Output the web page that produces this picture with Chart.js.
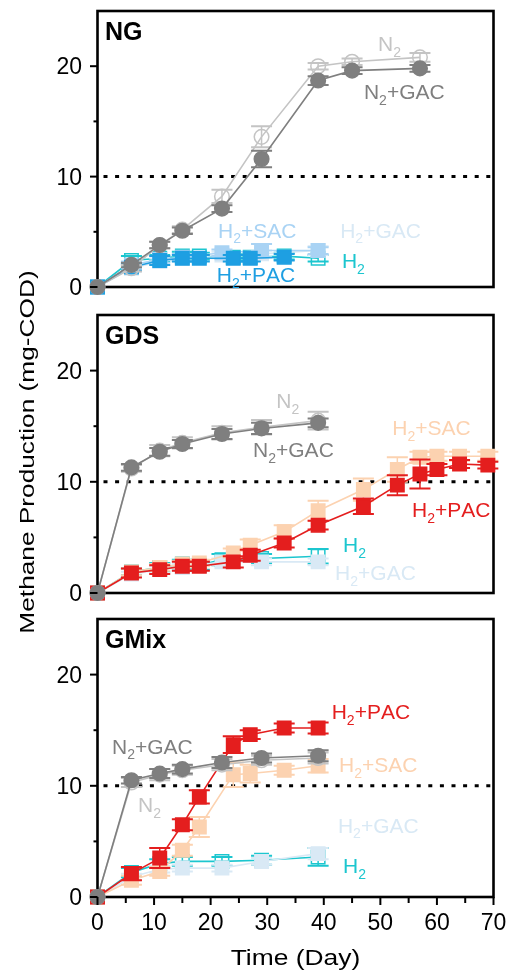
<!DOCTYPE html>
<html><head><meta charset="utf-8">
<script src="https://cdn.jsdelivr.net/npm/chart.js@4.4.1/dist/chart.umd.min.js"></script>
<style>
html,body{margin:0;padding:0;background:#fff;}
#wrap{position:relative;width:511px;height:977px;overflow:hidden;}
canvas{position:absolute;left:0;top:0;}
</style></head><body>
<div id="wrap">
<canvas id="c0" width="511" height="977"></canvas>
<canvas id="c1" width="511" height="977"></canvas>
<canvas id="c2" width="511" height="977"></canvas>
</div>
<script>
// ---------- data ----------
const panelNames = ['NG', 'GDS', 'GMix'];
const xTickValues = [0, 10, 20, 30, 40, 50, 60, 70];
const xMinorValues = [5, 15, 25, 35, 45, 55, 65];
const yTickValues = [0, 10, 20];
const yMinorValues = [5, 15];
const xTitle = 'Time (Day)';
const yTitle = 'Methane Production (mg-COD)';

const daysNG_N = [0, 6, 11, 15, 22, 29, 39, 45, 57];
const daysA = [0, 6, 11, 15, 22, 29, 39];
const daysB = [0, 6, 11, 15, 18, 24, 27, 33, 39];
const daysB8 = [0, 6, 11, 15, 18, 24, 27, 33];
const daysC = [0, 6, 11, 15, 18, 22, 29, 39];
const daysLong = [0, 6, 11, 15, 18, 24, 27, 33, 39, 47, 53, 57, 60, 64, 69];

// NG
const ngN2GAC = [0, 2.0, 3.8, 5.1, 7.1, 11.6, 18.7, 19.6, 19.8];
const ngN2GACErr = [0, 0.2, 0.3, 0.3, 0.3, 0.75, 0.4, 0.3, 0.3];
const ngN2 = [0, 1.7, 3.8, 5.2, 8.2, 13.6, 20.0, 20.4, 20.8];
const ngN2Err = [0, 0.3, 0.3, 0.3, 0.6, 0.95, 0.3, 0.3, 0.4];
const ngH2PAC = [0, 1.8, 2.4, 2.6, 2.6, 2.6, 2.6, 2.7];
const ngH2PACErr = [0, 0.3, 0.4, 0.3, 0.3, 0.3, 0.3, 0.3];
const ngH2SAC = [0, 2.0, 2.5, 2.7, 3.1, 3.3, 3.3];
const ngH2SACErr = [0, 0.3, 0.3, 0.3, 0.3, 0.6, 0.3];
const ngH2GAC = [0, 1.7, 2.3, 2.6, 2.9, 3.0, 3.3];
const ngH2GACErr = [0, 0.3, 0.3, 0.3, 0.3, 0.3, 0.4];
const ngH2 = [0, 2.4, 2.6, 2.8, 2.8, 2.7, 2.7, 2.8, 2.6];
const ngH2Err = [0, 0.4, 0.3, 0.4, 0.3, 0.3, 0.3, 0.3, 0.3];

// GDS
const gdsN2GAC = [0, 11.3, 12.7, 13.4, 14.3, 14.8, 15.3];
const gdsN2GACErr = [0, 0.3, 0.35, 0.35, 0.45, 0.5, 0.4];
const gdsN2 = [0, 11.2, 12.8, 13.5, 14.4, 14.9, 15.5];
const gdsN2Err = [0, 0.3, 0.5, 0.5, 0.6, 0.65, 0.8];
const gdsH2PAC = [0, 1.8, 2.1, 2.4, 2.4, 2.8, 3.4, 4.5, 6.1, 7.8, 9.7, 10.7, 11.1, 11.6, 11.5];
const gdsH2PACErr = [0, 0.4, 0.4, 0.4, 0.4, 0.5, 0.5, 0.4, 0.4, 0.7, 0.9, 1.3, 0.5, 0.35, 0.3];
const gdsH2SAC = [0, 1.9, 2.3, 2.6, 2.7, 3.6, 4.3, 5.5, 7.4, 9.3, 11.1, 12.2, 12.3, 12.3, 12.3];
const gdsH2SACErr = [0, 0.3, 0.3, 0.3, 0.3, 0.4, 0.5, 0.6, 0.9, 1.0, 1.1, 0.5, 0.4, 0.4, 0.4];
const gdsH2GAC = [0, 1.7, 2.1, 2.3, 2.8, 2.8, 2.8];
const gdsH2GACErr = [0, 0.2, 0.3, 0.3, 0.3, 0.3, 0.3];
const gdsH2 = [0, 1.9, 2.3, 2.6, 2.5, 3.0, 3.1, 3.3];
const gdsH2Err = [0, 0.3, 0.4, 0.4, 0.4, 0.5, 0.4, 0.65];

// GMix
const gmN2GAC = [0, 10.5, 11.1, 11.5, 12.1, 12.5, 12.7];
const gmN2GACErr = [0, 0.3, 0.4, 0.4, 0.5, 0.4, 0.5];
const gmN2 = [0, 10.3, 11.0, 11.4, 11.9, 12.3, 12.5];
const gmN2Err = [0, 0.4, 0.5, 0.4, 0.5, 0.4, 0.5];
const gmH2PAC = [0, 2.1, 3.5, 6.5, 9.0, 13.7, 14.6, 15.2, 15.2];
const gmH2PACErr = [0, 0.6, 0.9, 0.5, 0.6, 0.75, 0.4, 0.4, 0.5];
const gmH2SAC = [0, 1.5, 2.3, 4.2, 6.3, 11.0, 11.1, 11.4, 11.8];
const gmH2SACErr = [0, 0.4, 0.4, 0.5, 0.9, 1.1, 0.8, 0.4, 0.6];
const gmH2GAC = [0, 1.8, 2.5, 2.6, 2.6, 3.2, 3.9];
const gmH2GACErr = [0, 0.3, 0.3, 0.3, 0.3, 0.3, 0.5];
const gmH2 = [0, 2.2, 3.0, 3.2, 3.2, 3.3, 3.6];
const gmH2Err = [0, 0.4, 0.4, 0.4, 0.4, 0.4, 0.8];

// ---------- styles ----------
const C = {
  n2gac: '#7f7f7f', n2: '#c4c4c4', h2: '#1cc6cf',
  pacBlue: '#1e9fe2', sacBlue: '#a9d3f4', gac: '#d9e9f5',
  red: '#e41e1e', peach: '#fcd2b0'
};
const FONT = '"Liberation Sans", Arial, Helvetica, sans-serif';

function ser(name, days, vals, errs, color, shape, hollow) {
  return { name, days, vals, errs, color, shape, hollow };
}

const panels = [
  { name: panelNames[0], top: 10, bottom: 287, series: [
      ser('N2+GAC', daysNG_N, ngN2GAC, ngN2GACErr, C.n2gac, 'circle', false),
      ser('N2', daysNG_N, ngN2, ngN2Err, C.n2, 'circle', true),
      ser('H2+PAC', daysB8, ngH2PAC, ngH2PACErr, C.pacBlue, 'rect', false),
      ser('H2+SAC', daysA, ngH2SAC, ngH2SACErr, C.sacBlue, 'rect', false),
      ser('H2+GAC', daysA, ngH2GAC, ngH2GACErr, C.gac, 'rect', false),
      ser('H2', daysB, ngH2, ngH2Err, C.h2, 'rect', true)
    ],
    labels: [
      ['N2', 49.6, 21.4, C.n2], ['N2+GAC', 47.1, 17.0, C.n2gac],
      ['H2+SAC', 21.3, 4.48, C.sacBlue], ['H2+GAC', 42.9, 4.48, C.gac],
      ['H2+PAC', 21.1, 0.45, C.pacBlue], ['H2', 43.2, 1.7, C.h2]
    ] },
  { name: panelNames[1], top: 315, bottom: 593, series: [
      ser('N2+GAC', daysA, gdsN2GAC, gdsN2GACErr, C.n2gac, 'circle', false),
      ser('N2', daysA, gdsN2, gdsN2Err, C.n2, 'circle', true),
      ser('H2+PAC', daysLong, gdsH2PAC, gdsH2PACErr, C.red, 'rect', false),
      ser('H2+SAC', daysLong, gdsH2SAC, gdsH2SACErr, C.peach, 'rect', false),
      ser('H2+GAC', daysA, gdsH2GAC, gdsH2GACErr, C.gac, 'rect', false),
      ser('H2', daysC, gdsH2, gdsH2Err, C.h2, 'rect', true)
    ],
    labels: [
      ['N2', 31.6, 16.6, C.n2], ['N2+GAC', 27.5, 12.2, C.n2gac],
      ['H2+SAC', 52.1, 14.2, C.peach], ['H2+PAC', 55.6, 6.83, C.red],
      ['H2', 43.4, 3.69, C.h2], ['H2+GAC', 42.0, 1.17, C.gac]
    ] },
  { name: panelNames[2], top: 619, bottom: 897, series: [
      ser('N2+GAC', daysA, gmN2GAC, gmN2GACErr, C.n2gac, 'circle', false),
      ser('N2', daysA, gmN2, gmN2Err, C.n2, 'circle', true),
      ser('H2+PAC', daysB, gmH2PAC, gmH2PACErr, C.red, 'rect', false),
      ser('H2+SAC', daysB, gmH2SAC, gmH2SACErr, C.peach, 'rect', false),
      ser('H2+GAC', daysA, gmH2GAC, gmH2GACErr, C.gac, 'rect', false),
      ser('H2', daysA, gmH2, gmH2Err, C.h2, 'rect', true)
    ],
    labels: [
      ['N2+GAC', 2.56, 12.9, C.n2gac], ['N2', 7.16, 7.6, C.n2],
      ['H2+PAC', 41.4, 16.0, C.red], ['H2+SAC', 42.7, 11.2, C.peach],
      ['H2+GAC', 42.5, 5.8, C.gac], ['H2', 43.4, 2.15, C.h2]
    ] }
];

// text with subscript 2 after N/H
function drawSub(ctx, text, x, y, size, color, align) {
  const parts = [];
  for (let i = 0; i < text.length; i++) {
    const ch = text[i];
    const sub = ch === '2' && i > 0 && (text[i - 1] === 'N' || text[i - 1] === 'H');
    parts.push([ch, sub]);
  }
  const subSize = Math.round(size * 0.66);
  let w = 0;
  parts.forEach(([ch, sub]) => {
    ctx.font = (sub ? subSize : size) + 'px ' + FONT;
    w += ctx.measureText(ch).width;
  });
  let cx = align === 'center' ? x - w / 2 : x;
  ctx.fillStyle = color;
  ctx.textAlign = 'left';
  ctx.textBaseline = 'alphabetic';
  parts.forEach(([ch, sub]) => {
    ctx.font = (sub ? subSize : size) + 'px ' + FONT;
    ctx.fillText(ch, cx, sub ? y + size * 0.28 : y);
    cx += ctx.measureText(ch).width;
  });
}

const panelPlugin = {
  id: 'panelPlugin',
  beforeDatasetsDraw(chart) {
    const { ctx, chartArea: a, scales: { y } } = chart;
    ctx.save();
    // dotted reference line at 10
    ctx.strokeStyle = '#000';
    ctx.lineWidth = 3;
    ctx.setLineDash([4, 7.6]);
    const yy = y.getPixelForValue(10);
    ctx.beginPath();
    ctx.moveTo(a.left + 6, yy);
    ctx.lineTo(a.right, yy);
    ctx.stroke();
    ctx.setLineDash([]);
    // frame
    ctx.lineWidth = 2.6;
    ctx.strokeRect(a.left, a.top, a.right - a.left, a.bottom - a.top);
    ctx.restore();
  },
  beforeDatasetDraw(chart, args) {
    const ds = chart.data.datasets[args.index];
    const { ctx, scales: { x, y } } = chart;
    ctx.save();
    ctx.strokeStyle = ds.borderColor;
    ds.data.forEach((p, i) => {
      const e = ds.errs[i];
      if (!e) return;
      const px = x.getPixelForValue(p.x);
      const hi = y.getPixelForValue(p.y + e);
      const lo = y.getPixelForValue(p.y - e);
      ctx.lineWidth = 1.5;
      ctx.beginPath(); ctx.moveTo(px, hi); ctx.lineTo(px, lo); ctx.stroke();
      ctx.lineWidth = 2;
      ctx.beginPath();
      ctx.moveTo(px - 10.5, hi); ctx.lineTo(px + 10.5, hi);
      ctx.moveTo(px - 10.5, lo); ctx.lineTo(px + 10.5, lo);
      ctx.stroke();
    });
    ctx.restore();
  },
  afterDraw(chart) {
    const { ctx, chartArea: a, scales: { x, y } } = chart;
    const panel = chart.options.plugins.panelPlugin.panel;
    const idx = chart.options.plugins.panelPlugin.index;
    ctx.save();
    ctx.strokeStyle = '#000';
    ctx.fillStyle = '#000';
    ctx.lineWidth = 2;
    // y ticks
    yTickValues.forEach(v => {
      const py = y.getPixelForValue(v);
      ctx.beginPath(); ctx.moveTo(a.left - 7.5, py); ctx.lineTo(a.left, py); ctx.stroke();
      ctx.font = '23px ' + FONT;
      ctx.textAlign = 'right'; ctx.textBaseline = 'alphabetic';
      ctx.fillText(String(v), 82, py + 8.2);
    });
    yMinorValues.forEach(v => {
      const py = y.getPixelForValue(v);
      ctx.beginPath(); ctx.moveTo(a.left - 4, py); ctx.lineTo(a.left, py); ctx.stroke();
    });
    // x ticks on last panel
    if (idx === 2) {
      xTickValues.forEach(v => {
        const px = x.getPixelForValue(v);
        ctx.beginPath(); ctx.moveTo(px, a.bottom); ctx.lineTo(px, a.bottom + 8); ctx.stroke();
        ctx.font = '23px ' + FONT;
        ctx.textAlign = 'center'; ctx.textBaseline = 'alphabetic';
        ctx.fillText(String(v), px, 930);
      });
      xMinorValues.forEach(v => {
        const px = x.getPixelForValue(v);
        ctx.beginPath(); ctx.moveTo(px, a.bottom); ctx.lineTo(px, a.bottom + 6); ctx.stroke();
      });
      // x title
      ctx.save();
      ctx.translate((a.left + a.right) / 2, 965);
      ctx.scale(1.2, 1);
      ctx.font = '22px ' + FONT;
      ctx.textAlign = 'center';
      ctx.fillText(xTitle, 0, 0);
      ctx.restore();
    }
    if (idx === 0) {
      ctx.save();
      ctx.translate(34, 452);
      ctx.rotate(-Math.PI / 2);
      ctx.scale(1.25, 1);
      ctx.font = '21px ' + FONT;
      ctx.textAlign = 'center';
      ctx.fillText(yTitle, 0, 0);
      ctx.restore();
    }
    // panel title
    ctx.font = 'bold 25px ' + FONT;
    ctx.textAlign = 'left';
    ctx.fillText(panel.name, 105, a.top + 29);
    // series labels
    panel.labels.forEach(([t, dx, dy, col]) => {
      drawSub(ctx, t, x.getPixelForValue(dx), y.getPixelForValue(dy), 21, col, 'left');
    });
    ctx.restore();
  }
};

panels.forEach((panel, idx) => {
  const datasets = panel.series.map(s => ({
    label: s.name,
    data: s.days.map((d, i) => ({ x: d, y: s.vals[i] })),
    errs: s.errs,
    borderColor: s.color,
    backgroundColor: s.hollow ? 'rgba(0,0,0,0)' : s.color,
    pointBackgroundColor: s.hollow ? 'rgba(0,0,0,0)' : s.color,
    pointBorderColor: s.color,
    pointStyle: s.shape,
    pointRadius: s.shape === 'rect' ? 9.5 : 7.3,
    pointBorderWidth: 1.5,
    borderWidth: 1.6,
    tension: 0,
    fill: false,
    clip: false
  }));
  new Chart(document.getElementById('c' + idx), {
    type: 'line',
    data: { datasets },
    options: {
      responsive: false,
      animation: false,
      devicePixelRatio: 1,
      events: [],
      layout: { padding: { left: 97.5, right: 17.5, top: panel.top, bottom: 977 - panel.bottom } },
      scales: {
        x: { type: 'linear', min: 0, max: 70, display: false },
        y: { type: 'linear', min: 0, max: 25, display: false }
      },
      plugins: {
        legend: { display: false },
        tooltip: { enabled: false },
        panelPlugin: { panel, index: idx }
      }
    },
    plugins: [panelPlugin]
  });
});
</script>
</body></html>
